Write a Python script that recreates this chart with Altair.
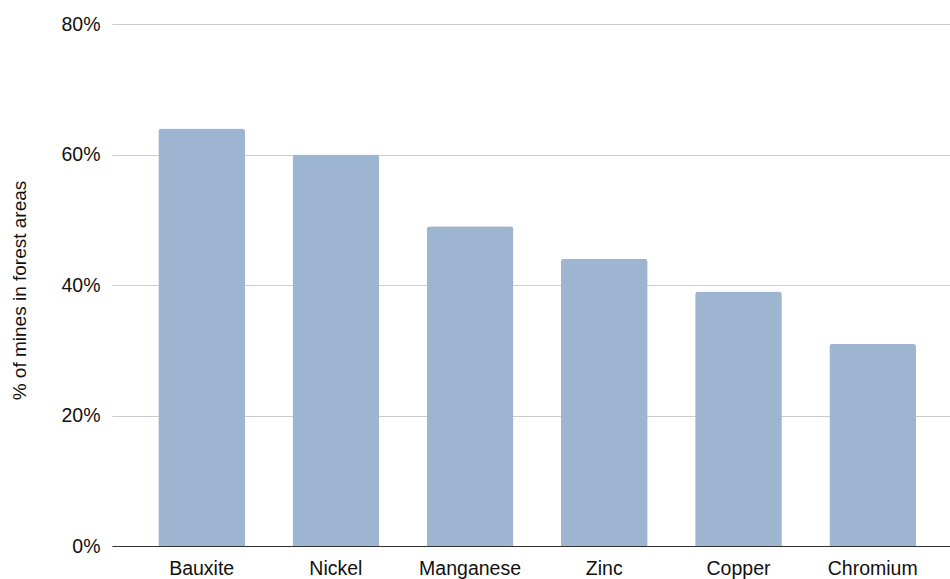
import altair as alt
import pandas as pd

minerals = ["Bauxite", "Nickel", "Manganese", "Zinc", "Copper", "Chromium"]
share = [0.64, 0.60, 0.49, 0.44, 0.39, 0.31]
y_ticks = [0, 0.2, 0.4, 0.6, 0.8]

df = pd.DataFrame({"mineral": minerals, "share": share})

FONT = "Liberation Sans"
TXT = "#111111"

chart = (
    alt.Chart(df)
    .mark_bar(color="#9db5d1", cornerRadiusTopLeft=3, cornerRadiusTopRight=3)
    .encode(
        x=alt.X(
            "mineral:N",
            sort=minerals,
            scale=alt.Scale(paddingInner=0.354, paddingOuter=0.299, align=0.577),
            axis=alt.Axis(
                title=None,
                labelAngle=0,
                labelFontSize=19.5,
                labelFont=FONT,
                labelColor=TXT,
                labelPadding=13,
                ticks=False,
                domainColor="#333333",
                domainWidth=1,
                grid=False,
            ),
        ),
        y=alt.Y(
            "share:Q",
            scale=alt.Scale(domain=[0, 0.8], nice=False),
            axis=alt.Axis(
                title="% of mines in forest areas",
                values=y_ticks,
                format=".0%",
                labelFontSize=19.5,
                labelFont=FONT,
                labelColor=TXT,
                labelPadding=12,
                ticks=False,
                domain=False,
                gridColor="#cccccc",
                gridWidth=1,
                titleFont=FONT,
                titleFontSize=19,
                titleFontWeight="normal",
                titleColor=TXT,
                titleAngle=-90,
                titleX=-93,
                titleY=266,
                titleAlign="center",
                titleBaseline="middle",
            ),
        ),
    )
    .properties(
        width=838,
        height=522,
        background="white",
        autosize=alt.AutoSizeParams(type="none"),
        padding={"left": 112, "top": 24, "right": 0, "bottom": 33},
    )
    .configure_view(strokeWidth=0, stroke=None)
)

chart.save("out.html", embed_options={"renderer": "svg", "actions": False})
